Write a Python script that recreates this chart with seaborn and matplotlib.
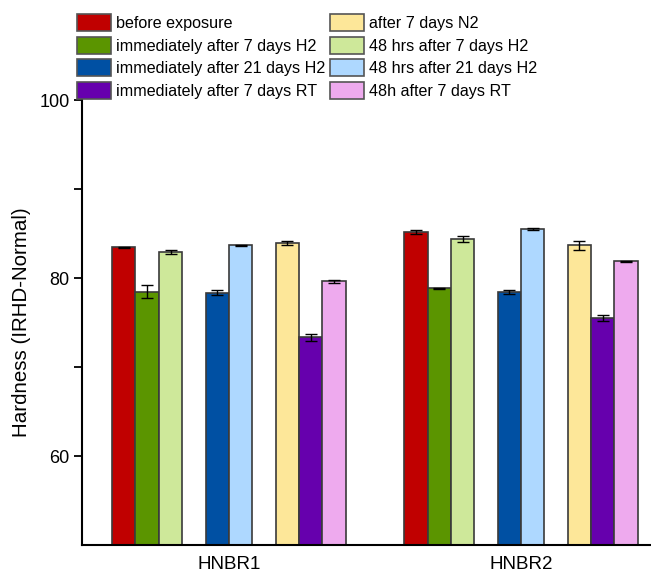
import numpy as np
import pandas as pd
import matplotlib
matplotlib.use("Agg")
import matplotlib.pyplot as plt
import matplotlib.patches as mpatches
import seaborn as sns

samples = ["HNBR1", "HNBR2"]

before_exposure = [83.45, 85.13]
imm_7d_h2 = [78.46, 78.84]
h48_7d_h2 = [82.92, 84.38]
imm_21d_h2 = [78.35, 78.46]
h48_21d_h2 = [83.67, 85.54]
after_7d_n2 = [83.97, 83.67]
imm_7d_rt = [73.37, 75.50]
h48_7d_rt = [79.62, 81.90]

before_exposure_sd = [0.05, 0.22]
imm_7d_h2_sd = [0.73, 0.05]
h48_7d_h2_sd = [0.20, 0.30]
imm_21d_h2_sd = [0.28, 0.22]
h48_21d_h2_sd = [0.08, 0.08]
after_7d_n2_sd = [0.20, 0.47]
imm_7d_rt_sd = [0.39, 0.30]
h48_7d_rt_sd = [0.20, 0.05]

labels = ["before exposure", "immediately after 7 days H2", "48 hrs after 7 days H2",
          "immediately after 21 days H2", "48 hrs after 21 days H2",
          "after 7 days N2", "immediately after 7 days RT", "48h after 7 days RT"]
values = [before_exposure, imm_7d_h2, h48_7d_h2, imm_21d_h2, h48_21d_h2,
          after_7d_n2, imm_7d_rt, h48_7d_rt]
sds = [before_exposure_sd, imm_7d_h2_sd, h48_7d_h2_sd, imm_21d_h2_sd, h48_21d_h2_sd,
       after_7d_n2_sd, imm_7d_rt_sd, h48_7d_rt_sd]
colors = ["#C00000", "#5B9500", "#CEE89A", "#0050A3", "#AED8FF",
          "#FDE799", "#6600AD", "#EEAAEE"]

# empty slots between the H2 / 21d / other blocks
gap1, gap2 = " ", "  "
hue_order = labels[:3] + [gap1] + labels[3:5] + [gap2] + labels[5:]

rows = []
for lab, vals, errs in zip(labels, values, sds):
    for s, v, e in zip(samples, vals, errs):
        rows.append({"sample": s, "condition": lab, "hardness": v, "sd": e})
df = pd.DataFrame(rows)

palette = dict(zip(labels, colors))
palette[gap1] = "white"
palette[gap2] = "white"

plt.rcParams["font.family"] = ["Liberation Sans", "DejaVu Sans"]
fig = plt.figure(figsize=(6.51, 5.72), dpi=100)
ax = fig.add_axes([0.126, 0.047, 0.874, 0.778])

sns.barplot(data=df, x="sample", y="hardness", hue="condition", hue_order=hue_order,
            palette=palette, saturation=1, errorbar=None, width=0.8,
            edgecolor="#3a3a3a", linewidth=1.2, legend=False, ax=ax)

# error bars on top of each bar
col2lab = {matplotlib.colors.to_hex(c): l for l, c in palette.items()}
for p in ax.patches:
    lab = col2lab.get(matplotlib.colors.to_hex(p.get_facecolor()))
    if lab not in labels:
        continue
    xc = p.get_x() + p.get_width() / 2
    s = samples[int(round(xc))]
    e = df.loc[(df["sample"] == s) & (df["condition"] == lab), "sd"].iloc[0]
    ax.errorbar(xc, p.get_height(), yerr=e, color="black", lw=1, capsize=4.5,
                capthick=1, zorder=5)

ax.set_ylim(50, 100)
ax.set_xlim(-0.503, 1.445)
ax.set_yticks([60, 80, 100])
ax.set_yticks([70, 90], minor=True)
ax.tick_params(axis="y", which="both", direction="out", length=6, width=1.3,
               labelsize=13, pad=3)
ax.tick_params(axis="x", length=0, labelsize=13.5, pad=8)
ax.set_xlabel("")
ax.set_ylabel("Hardness (IRHD-Normal)", fontsize=14.8, labelpad=6)
sns.despine(ax=ax)
for sp in ["left", "bottom"]:
    ax.spines[sp].set_linewidth(1.5)

order = [0, 1, 3, 6, 5, 2, 4, 7]
handles = [mpatches.Patch(facecolor=colors[i], edgecolor="#555555", linewidth=1.2,
                          label=labels[i]) for i in order]
fig.legend(handles=handles, loc="upper left", bbox_to_anchor=(0.118, 0.976), ncol=2,
           frameon=False, fontsize=11.6, handlelength=2.1, handleheight=1.25,
           handletextpad=0.32, labelspacing=0.36, columnspacing=0.3, borderpad=0,
           borderaxespad=0)

fig.savefig("out.png", dpi=100)
